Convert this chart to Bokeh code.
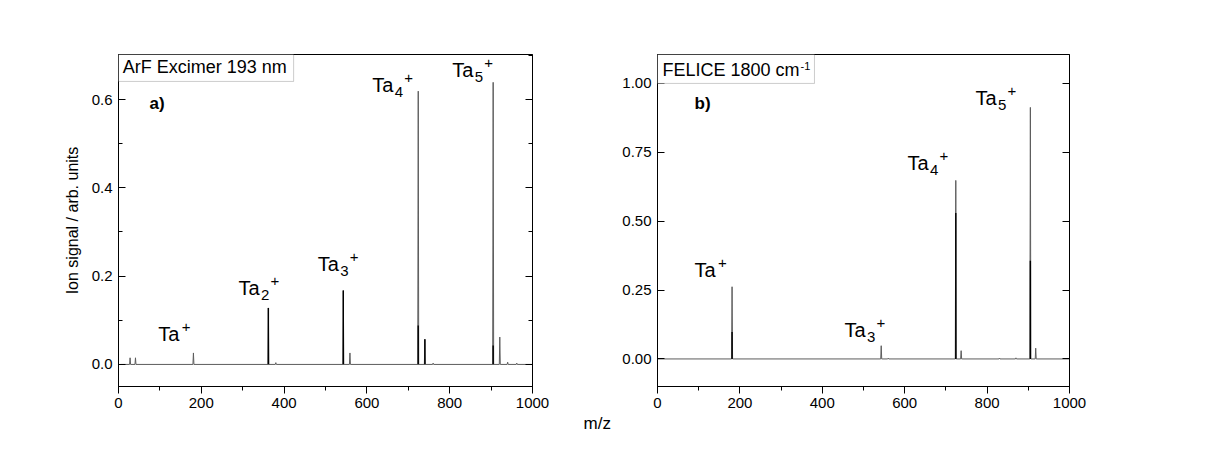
from bokeh.plotting import figure
from bokeh.models import (Label, BoxAnnotation, LinearAxis, SingleIntervalTicker,
                          NumeralTickFormatter, Range1d, ColumnDataSource, Title)
from bokeh.layouts import row
from bokeh.embed import file_html
from bokeh.resources import INLINE

# ---------------- data ----------------
# panel a) ArF excimer 193 nm
a_peak_mz = [28, 41, 181, 362, 380, 543, 559, 724, 740, 760, 905, 921, 940, 962]
a_peak_int = [0.015, 0.015, 0.026, 0.128, 0.004, 0.1675, 0.026, 0.619, 0.057, 0.003,
              0.639, 0.062, 0.005, 0.003]
a_core_mz = [362, 543, 724, 740, 905]
a_core_int = [0.128, 0.1675, 0.088, 0.057, 0.043]

# panel b) FELICE 1800 cm-1
b_peak_mz = [181, 543, 560, 724, 737, 830, 870, 905, 918]
b_peak_int = [0.262, 0.048, 0.003, 0.648, 0.03, 0.003, 0.004, 0.913, 0.039]
b_core_mz = [181, 724, 905]
b_core_int = [0.098, 0.53, 0.356]

# ion labels: (m/z, signal) anchor of the "Ta" text, cluster size
a_lab_x = [96, 290, 481, 613, 806]
a_lab_y = [0.068, 0.174, 0.227, 0.634, 0.668]
a_lab_n = ["", "2", "3", "4", "5"]
b_lab_x = [90, 454, 607, 772]
b_lab_y = [0.322, 0.106, 0.710, 0.946]
b_lab_n = ["", "3", "4", "5"]

FONT = "Liberation Sans"
H = 448
TRACE = "#5c5c5c"


def trace(start, mz, inten):
    xs, ys = [start], [0.0]
    for m, h in sorted(zip(mz, inten)):
        xs += [m - 1.2, m, m + 1.2]
        ys += [0.0, h, 0.0]
    xs.append(1000)
    ys.append(0.0)
    return ColumnDataSource(dict(x=xs, y=ys))


def style(p, yint, yfmt, yminor):
    p.xgrid.visible = False
    p.ygrid.visible = False
    p.outline_line_color = "black"
    p.outline_line_width = 1
    p.background_fill_color = "white"
    p.border_fill_color = "white"
    xa = p.xaxis[0]
    xa.ticker = SingleIntervalTicker(interval=200, num_minor_ticks=2)
    xa.major_tick_in = 0
    xa.major_tick_out = 7
    xa.minor_tick_in = 0
    xa.minor_tick_out = 4
    xa.major_label_standoff = 4
    ya = p.yaxis[0]
    ya.ticker = SingleIntervalTicker(interval=yint, num_minor_ticks=yminor)
    ya.formatter = NumeralTickFormatter(format=yfmt)
    ya.major_tick_in = 7
    ya.major_tick_out = 0
    ya.minor_tick_in = 4
    ya.minor_tick_out = 0
    ya.major_label_standoff = 6
    for ax in (xa, ya):
        ax.axis_line_color = "black"
        ax.major_tick_line_color = "black"
        ax.minor_tick_line_color = "black"
        ax.major_label_text_font = FONT
        ax.major_label_text_font_size = "15px"
        ax.major_label_text_color = "black"
    # mirrored ticks on the right side (no labels drawn)
    ra = LinearAxis(ticker=SingleIntervalTicker(interval=yint, num_minor_ticks=yminor))
    ra.major_tick_in = 7
    ra.major_tick_out = 0
    ra.minor_tick_in = 4
    ra.minor_tick_out = 0
    ra.major_label_text_color = None
    ra.axis_line_color = "black"
    ra.major_tick_line_color = "black"
    ra.minor_tick_line_color = "black"
    p.add_layout(ra, "right")


def ion_label(p, x, y, n):
    p.add_layout(Label(x=x, y=y, text="Ta", text_font=FONT, text_font_size="20px",
                       text_color="black", text_align="left", text_baseline="alphabetic"))
    off = 22.5
    if n:
        p.add_layout(Label(x=x, y=y, x_offset=off, y_offset=-7, text=n, text_font=FONT,
                           text_font_size="15px", text_color="black",
                           text_align="left", text_baseline="alphabetic"))
        off += 9.5
    else:
        off += 1
    p.add_layout(Label(x=x, y=y, x_offset=off, y_offset=7, text="+", text_font=FONT,
                       text_font_size="15px", text_color="black",
                       text_align="left", text_baseline="alphabetic"))


# ---------------- panel a ----------------
pa = figure(width=615, height=H, x_range=Range1d(0, 1000), y_range=Range1d(-0.05, 0.702),
            output_backend="svg", toolbar_location=None,
            min_border_left=118, min_border_right=83, min_border_top=54, min_border_bottom=62)
style(pa, 0.2, "0.0", 2)
pa.yaxis[0].axis_label = "Ion signal / arb. units"
pa.yaxis[0].axis_label_text_font = FONT
pa.yaxis[0].axis_label_text_font_size = "16px"
pa.yaxis[0].axis_label_text_font_style = "normal"
pa.yaxis[0].axis_label_text_color = "black"
pa.yaxis[0].axis_label_standoff = 8

pa.line("x", "y", source=trace(5, a_peak_mz, a_peak_int), line_color=TRACE, line_width=1)
pa.segment(x0=a_core_mz, y0=[0] * len(a_core_mz), x1=a_core_mz, y1=a_core_int,
           line_color="black", line_width=1.4)

pa.add_layout(BoxAnnotation(left=0, right=423, bottom=0.641, top=0.702,
                            fill_color="white", fill_alpha=1, line_color="#555555", line_width=1))
pa.add_layout(Label(x=10, y=0.674, text="ArF Excimer 193 nm", text_font=FONT,
                    text_font_size="18px", text_color="black", text_baseline="alphabetic"))
pa.add_layout(Label(x=75, y=0.591, text="a)", text_font=FONT, text_font_size="17px",
                    text_font_style="bold", text_color="black", text_baseline="alphabetic"))
for x, y, n in zip(a_lab_x, a_lab_y, a_lab_n):
    ion_label(pa, x, y, n)

# shared x-axis title, centred between the two panels
pa.add_layout(Title(text="m/z", align="left", offset=465, standoff=2,
                    text_font=FONT, text_font_size="17px", text_font_style="normal",
                    text_color="black"), "below")

# ---------------- panel b ----------------
pb = figure(width=585, height=H, x_range=Range1d(0, 1000), y_range=Range1d(-0.1, 1.105),
            output_backend="svg", toolbar_location=None,
            min_border_left=42, min_border_right=131, min_border_top=54, min_border_bottom=62)
style(pb, 0.25, "0.00", 0)

pb.line("x", "y", source=trace(0, b_peak_mz, b_peak_int), line_color=TRACE, line_width=1)
pb.segment(x0=b_core_mz, y0=[0] * len(b_core_mz), x1=b_core_mz, y1=b_core_int,
           line_color="black", line_width=1.4)

pb.add_layout(BoxAnnotation(left=0, right=381, bottom=1.0, top=1.105,
                            fill_color="white", fill_alpha=1, line_color="#555555", line_width=1))
pb.add_layout(Label(x=12, y=1.049, text="FELICE 1800 cm", text_font=FONT,
                    text_font_size="18px", text_color="black", text_baseline="alphabetic"))
pb.add_layout(Label(x=347, y=1.064, text="-1", text_font=FONT, text_font_size="11px",
                    text_color="black", text_baseline="alphabetic"))
pb.add_layout(Label(x=90, y=0.928, text="b)", text_font=FONT, text_font_size="17px",
                    text_font_style="bold", text_color="black", text_baseline="alphabetic"))
for x, y, n in zip(b_lab_x, b_lab_y, b_lab_n):
    ion_label(pb, x, y, n)

layout = row(pa, pb)
open("out.html", "w").write(file_html(layout, INLINE))
